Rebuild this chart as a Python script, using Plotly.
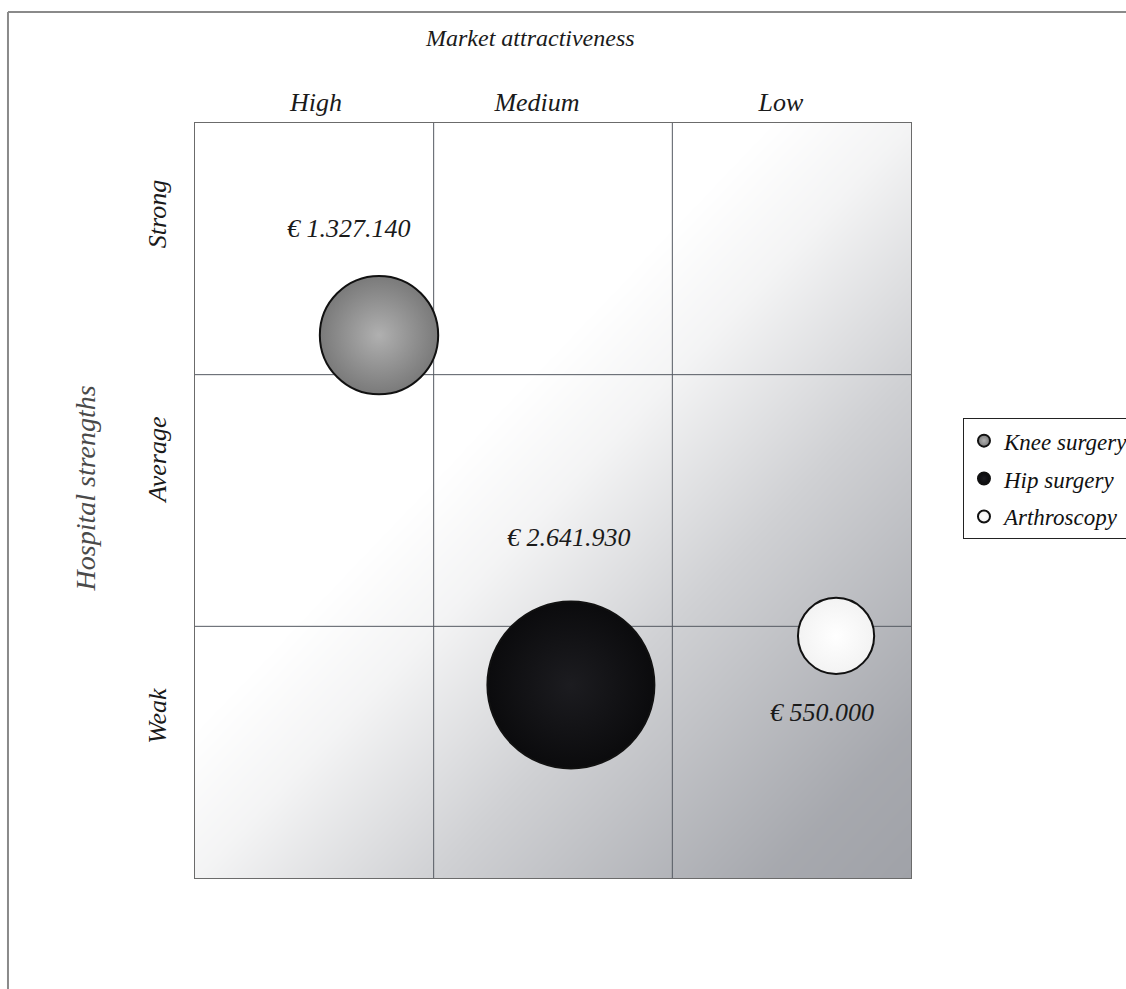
import numpy as np
import plotly.graph_objects as go

# ---- data ----
categories = ["Knee surgery", "Hip surgery", "Arthroscopy"]
values = [1327140, 2641930, 550000]
value_labels = ["€ 1.327.140", "€ 2.641.930", "€ 550.000"]
# position in the matrix (0-3 columns: High, Medium, Low ; 0-3 rows: Weak, Average, Strong)
x_pos = [0.771, 1.575, 2.686]
y_pos = [2.157, 0.767, 0.962]
col_labels = ["High", "Medium", "Low"]
col_label_pos = [0.507, 1.433, 2.455]
row_labels = ["Strong", "Average", "Weak"]
row_label_pos = [2.623, 1.649, 0.628]

# ---- styles ----
FONT = "Liberation Serif"
edge_colors = ["#7a7a7a", "#0b0b0d", "#f3f3f3"]
center_colors = ["#b0b0b0", "#1c1c20", "#ffffff"]
label_shift = [(-30, 107), (-2, 147), (-14, -77)]

fig = go.Figure()

# background gradient (white top-left to grey bottom-right)
gx = np.linspace(0, 3, 61)
gy = np.linspace(0, 3, 61)
GX, GY = np.meshgrid(gx, gy)
s = GX / 3 + (1 - GY / 3)
shade = np.interp(s, [0, 0.8, 1.0, 1.33, 1.8, 2.0], [0, 0, 0.12, 0.5, 0.93, 1.0])
fig.add_trace(go.Heatmap(x=gx, y=gy, z=shade, zmin=0, zmax=1,
                         colorscale=[[0, "#ffffff"], [1, "#a0a2a8"]],
                         zsmooth="best", showscale=False, hoverinfo="skip",
                         showlegend=False))

# grid dividing lines
gl_x = [1, 1, None, 2, 2, None, 0, 3, None, 0, 3]
gl_y = [0, 3, None, 0, 3, None, 1, 1, None, 2, 2]
fig.add_trace(go.Scatter(x=gl_x, y=gl_y, mode="lines",
                         line=dict(color="#555a62", width=1),
                         hoverinfo="skip", showlegend=False))

# bubbles
for i, name in enumerate(categories):
    fig.add_trace(go.Scatter(
        x=[x_pos[i]], y=[y_pos[i]], mode="markers", name=name,
        legendgroup=name,
        marker=dict(size=[values[i]], sizemode="area",
                    sizeref=2 * max(values) / 167 ** 2,
                    color=edge_colors[i], opacity=1,
                    gradient=dict(type="radial", color=center_colors[i]),
                    line=dict(color="#111111", width=2)),
        hovertemplate=name + ": " + value_labels[i] + "<extra></extra>"))
    fig.add_annotation(x=x_pos[i], y=y_pos[i], text=value_labels[i],
                       showarrow=False, xshift=label_shift[i][0],
                       yshift=label_shift[i][1],
                       font=dict(family=FONT, size=26, color="#1a1a1a",
                                 style="italic"))

fig.add_annotation(x=0.468, y=1.1126, xref="paper", yref="paper",
                   xanchor="center", yanchor="middle",
                   text="Market attractiveness", showarrow=False,
                   font=dict(family=FONT, size=24, color="#1a1a1a", style="italic"))
fig.add_annotation(x=-0.1606, y=0.516, xref="paper", yref="paper",
                   xanchor="center", yanchor="middle",
                   text="Hospital strengths", showarrow=False, textangle=-90,
                   xshift=5,
                   font=dict(family=FONT, size=28, color="#4a4a4a", style="italic"))

# scan frame lines
fig.add_shape(type="line", xref="paper", yref="paper", x0=-0.2612, x1=1.31,
              y0=1.147, y1=1.147, line=dict(color="#8a8a8a", width=2))
fig.add_shape(type="line", xref="paper", yref="paper", x0=-0.2612, x1=-0.2612,
              y0=1.147, y1=-0.15, line=dict(color="#8a8a8a", width=2))

fig.update_xaxes(range=[0, 3], side="top", tickvals=col_label_pos,
                 ticktext=col_labels, ticks="", showgrid=False, zeroline=False,
                 showline=True, mirror=True, linecolor="#6b6b6b", linewidth=1,
                 ticklabelstandoff=1, fixedrange=True,
                 tickfont=dict(family=FONT, size=26, color="#1a1a1a", style="italic"))
fig.update_yaxes(range=[0, 3], tickvals=row_label_pos, ticktext=row_labels,
                 tickangle=-90, ticks="", showgrid=False, zeroline=False,
                 showline=True, mirror=True, linecolor="#6b6b6b", linewidth=1,
                 ticklabelstandoff=18, fixedrange=True,
                 tickfont=dict(family=FONT, size=26, color="#1a1a1a", style="italic"))

fig.update_layout(
    width=1126, height=989,
    margin=dict(l=195, r=215, t=123, b=111, autoexpand=False),
    paper_bgcolor="white", plot_bgcolor="white",
    legend=dict(x=1.0726, y=0.609, xanchor="left", yanchor="top",
                bordercolor="#222222", borderwidth=1, bgcolor="white",
                itemsizing="constant", tracegroupgap=5, itemwidth=30,
                font=dict(family=FONT, size=23, color="#111111", style="italic")),
)

fig.write_html("out.html")
